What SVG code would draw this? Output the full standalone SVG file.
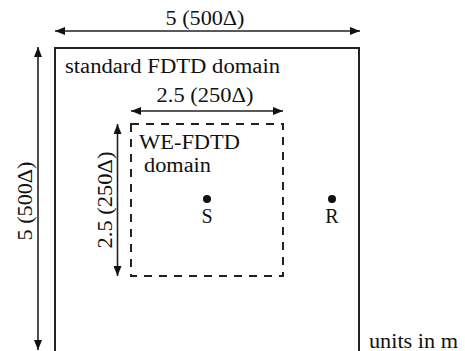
<svg xmlns="http://www.w3.org/2000/svg" width="465" height="351" viewBox="0 0 465 351">
<style>
text{font-family:"Liberation Serif","Times New Roman",serif;font-size:20px;fill:#111}
.dim{stroke:#222;stroke-width:1.6;fill:none;marker-start:url(#ah);marker-end:url(#ah)}
</style>
<defs>
<marker id="ah" viewBox="0 0 10 8" refX="10" refY="4" markerWidth="10" markerHeight="8" markerUnits="userSpaceOnUse" orient="auto-start-reverse">
<path d="M0,0 L10,4 L0,8 z" fill="#111"/>
</marker>
</defs>
<rect width="465" height="351" fill="#fff"/>
<g id="outer">
<rect x="55" y="48" width="304" height="310" fill="none" stroke="#222" stroke-width="2"/>
<text x="65" y="73" textLength="215" lengthAdjust="spacingAndGlyphs">standard FDTD domain</text>
</g>
<g id="inner">
<rect x="131" y="124" width="152" height="152" fill="none" stroke="#222" stroke-width="2" stroke-dasharray="8,7"/>
<text x="139" y="149" textLength="101" lengthAdjust="spacingAndGlyphs">WE-FDTD</text>
<text x="144" y="172" textLength="67" lengthAdjust="spacingAndGlyphs">domain</text>
</g>
<g id="S">
<circle cx="207" cy="199" r="4" fill="#111"/>
<text x="207" y="223" text-anchor="middle">S</text>
</g>
<g id="R">
<circle cx="332" cy="199" r="4" fill="#111"/>
<text x="332" y="223" text-anchor="middle">R</text>
</g>
<g id="connectors">
<line class="dim" x1="55" y1="31" x2="360" y2="31"/>
<line class="dim" x1="38" y1="47" x2="38" y2="350"/>
<line class="dim" x1="131" y1="111" x2="283" y2="111"/>
<line class="dim" x1="117.5" y1="124" x2="117.5" y2="276"/>
</g>
<g id="labels">
<text x="205" y="25" text-anchor="middle" textLength="79" lengthAdjust="spacingAndGlyphs">5 (500Δ)</text>
<text x="205" y="101.7" text-anchor="middle" textLength="97" lengthAdjust="spacingAndGlyphs">2.5 (250Δ)</text>
<text transform="translate(32,201) rotate(-90)" text-anchor="middle" textLength="79" lengthAdjust="spacingAndGlyphs">5 (500Δ)</text>
<text transform="translate(111.5,200) rotate(-90)" text-anchor="middle" textLength="97" lengthAdjust="spacingAndGlyphs">2.5 (250Δ)</text>
<text x="369" y="348" textLength="89" lengthAdjust="spacingAndGlyphs">units in m</text>
</g>
</svg>
